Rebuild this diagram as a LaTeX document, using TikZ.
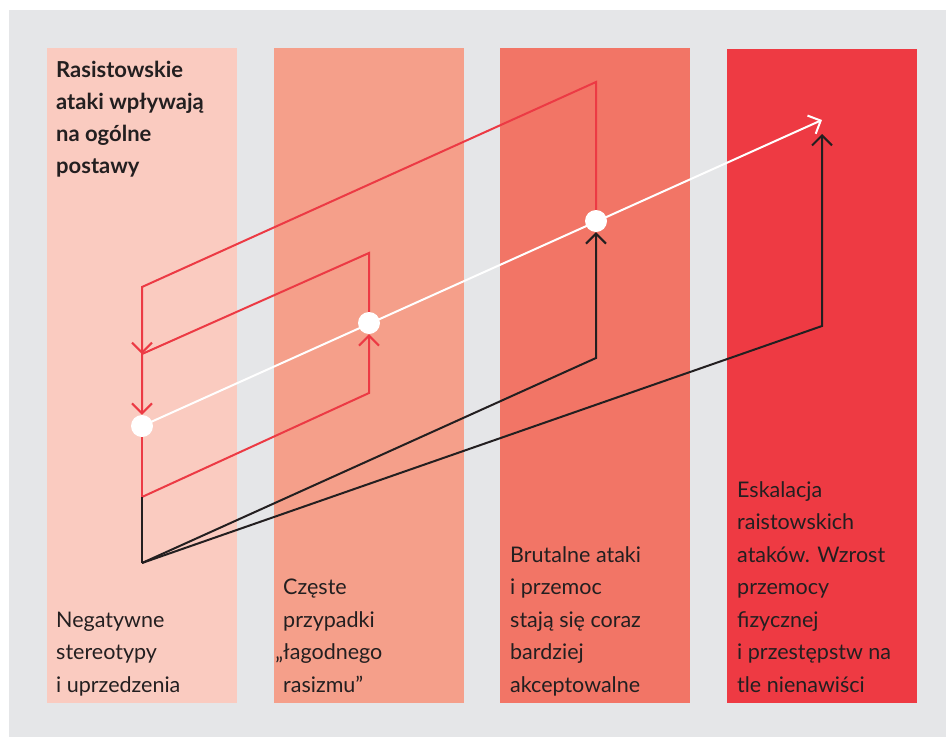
\documentclass[tikz,border=0pt]{standalone}
\usepackage{fontspec}
\setmainfont{Lato}
\usetikzlibrary{arrows.meta}
\definecolor{bggray}{HTML}{E5E6E8}
\definecolor{cone}{HTML}{FACBC0}
\definecolor{ctwo}{HTML}{F59F8A}
\definecolor{cthree}{HTML}{F27566}
\definecolor{cfour}{HTML}{EE3A43}
\definecolor{ink}{HTML}{231F20}
\definecolor{redline}{HTML}{EC3A44}
\newcommand{\blockpar}[1]{\parbox[b]{220pt}{\raggedright #1}}
\begin{document}
\begin{tikzpicture}[x=1pt,y=-1pt,
  tipb/.style={-{Straight Barb[length=10pt,width=20pt]}},
  redl/.style={draw=redline,line width=2pt,line join=miter},
  blkl/.style={draw=ink,line width=2pt,line join=miter},
  whl/.style={draw=white,line width=2pt},
  wdot/.style={circle,fill=white,minimum size=22pt,inner sep=0pt},
  lbl/.style={anchor=base west,inner sep=0pt,text=ink,font=\fontsize{21.5}{32.5}\selectfont}]
\useasboundingbox (0,0) rectangle (946,737);
% background
\fill[bggray] (9,10) rectangle (946,737);
% columns
\fill[cone] (47,48) rectangle (237,703);
\fill[ctwo] (274,48) rectangle (464,703);
\fill[cthree] (500,48) rectangle (690,703);
\fill[cfour] (727,49) rectangle (917,703);
% key points
\coordinate (d1p) at (142,426);
\coordinate (d2p) at (369,323);
\coordinate (d3p) at (596,221);
\coordinate (wtip) at (822,120);
\coordinate (r1a) at (596,82);
\coordinate (r1b) at (142,287);
\coordinate (rj) at (142,354);
\coordinate (r2a) at (369,253);
\coordinate (bj) at (142,497);
\coordinate (r3a) at (369,393);
\coordinate (base) at (142,563);
\coordinate (k1) at (596,358);
\coordinate (k2) at (822,326);
\coordinate (ktip) at (822,134);
% white trend line
\draw[whl,tipb] (d1p) -- (wtip);
% dots
\node[wdot] (d1) at (d1p) {};
\node[wdot] (d2) at (d2p) {};
\node[wdot] (d3) at (d3p) {};
% red loops
\draw[redl,tipb] (d3.north) -- (r1a) -- (r1b) -- (rj);
\draw[redl,tipb] (d2.north) -- (r2a) -- (rj) -- (d1.north);
\draw[redl,tipb] (bj) -- (r3a) -- (d2.south);
\draw[redl] (d1.south) -- (bj);
% black lines
\draw[blkl] (bj) -- (base);
\draw[blkl,tipb] (base) -- (k1) -- (d3.south);
\draw[blkl,tipb] (base) -- (k2) -- (ktip);
% texts
\node[lbl,font=\fontsize{22}{32}\selectfont\bfseries] (title) at (56,173)
  {\blockpar{Rasistowskie\\ataki wpływają\\na ogólne\\postawy}};
\node[lbl] (t1) at (56,692) {\blockpar{Negatywne\\stereotypy\\i uprzedzenia}};
\node[lbl] (t2) at (283,692) {\blockpar{Częste\\przypadki\\\leavevmode\llap{„}łagodnego\\rasizmu”}};
\node[lbl] (t3) at (510,692) {\blockpar{Brutalne ataki\\i przemoc\\stają się coraz\\bardziej\\akceptowalne}};
\node[lbl] (t4) at (737,692) {\blockpar{Eskalacja\\raistowskich\\ataków. Wzrost\\przemocy\\fizycznej\\i przestępstw na\\tle nienawiści}};
\end{tikzpicture}
\end{document}
